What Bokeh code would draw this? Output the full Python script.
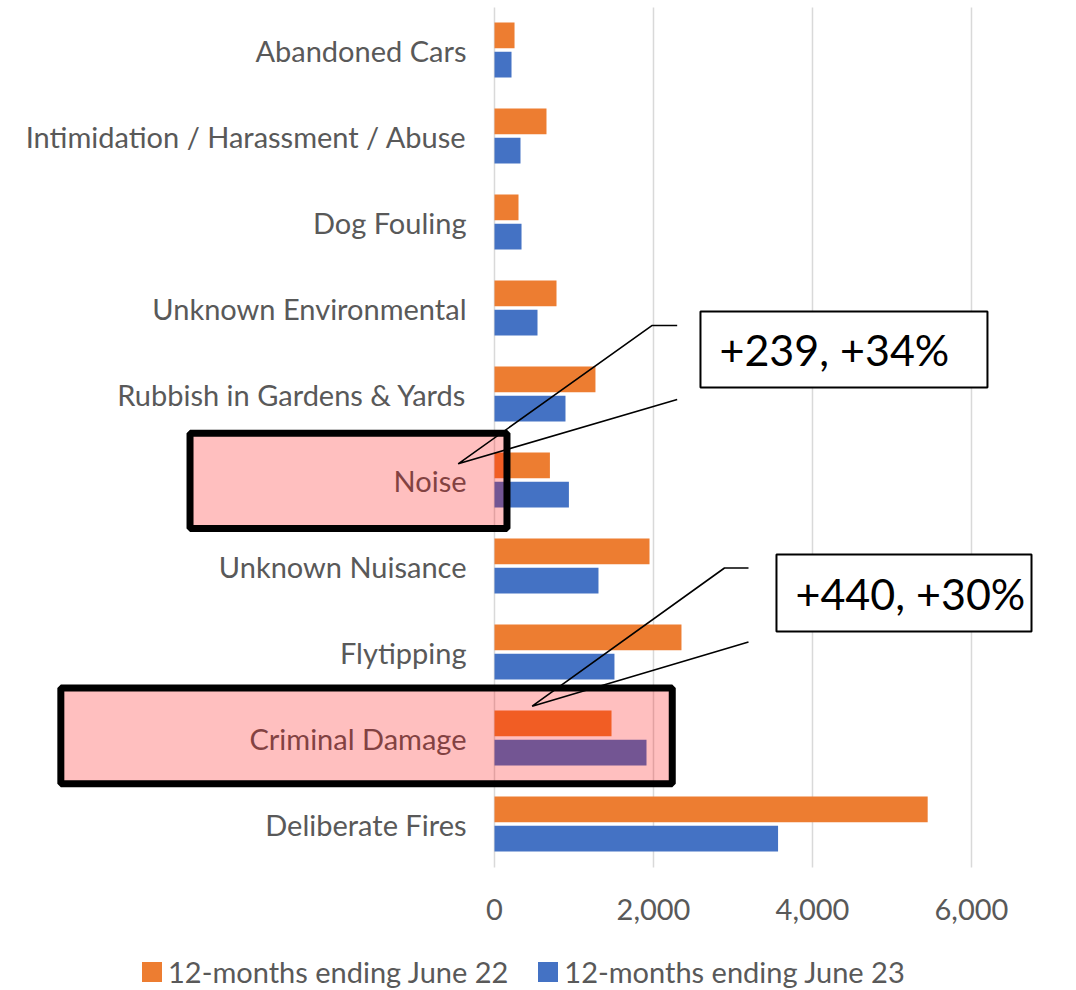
from bokeh.plotting import figure
from bokeh.models import ColumnDataSource, Range1d, Legend, LegendItem
from bokeh.transform import dodge
from bokeh.core.properties import value
from bokeh.embed import file_html
from bokeh.resources import INLINE

# ---- data ----
categories = ["Abandoned Cars", "Intimidation / Harassment / Abuse", "Dog Fouling",
              "Unknown Environmental", "Rubbish in Gardens & Yards", "Noise",
              "Unknown Nuisance", "Flytipping", "Criminal Damage", "Deliberate Fires"]
june22 = [252, 654, 302, 780, 1270, 697, 1950, 2352, 1472, 5449]
june23 = [214, 327, 340, 541, 893, 936, 1308, 1509, 1912, 3567]
series_labels = ["12-months ending June 22", "12-months ending June 23"]
x_ticks = [0, 2000, 4000, 6000]
x_tick_labels = ["0", "2,000", "4,000", "6,000"]
callout_texts = ["+239, +34%", "+440, +30%"]

# ---- styles ----
ORANGE = "#ED7D31"
BLUE = "#4472C4"
GREY_TEXT = "#595959"
FONT = "Lato"
FS = "29px"

# plot-area extent in category units (top edge, bottom edge) and tick-label row
AREA_TOP, AREA_BOTTOM, TICK_ROW = -0.494, 9.506, 9.99

pos = list(range(len(categories)))
src = ColumnDataSource(dict(pos=pos, cat=categories, j22=june22, j23=june23))

p = figure(frame_width=1076, frame_height=990, x_range=Range1d(-6214, 7321),
           y_range=Range1d(10.936, -0.5756), output_backend="svg",
           toolbar_location=None, x_axis_location=None, y_axis_location=None,
           min_border_left=0, min_border_right=0, min_border_top=0,
           min_border_bottom=0)
p.outline_line_color = None
p.background_fill_color = "white"
p.border_fill_color = "white"
p.xgrid.grid_line_color = None
p.ygrid.grid_line_color = None

# vertical gridlines of the value axis
p.segment(x0=x_ticks, x1=x_ticks, y0=AREA_TOP, y1=AREA_BOTTOM,
          line_color="#D9D9D9", line_width=1.5)

# value-axis tick labels
p.text(x=x_ticks, y=[TICK_ROW] * len(x_ticks), text=x_tick_labels,
       text_align="center", text_baseline="middle",
       text_font=value(FONT), text_font_size=FS, text_color=GREY_TEXT)

# bars
r1 = p.hbar(y=dodge("pos", -0.169, range=p.y_range), left=0, right="j22", height=0.30,
            fill_color=ORANGE, line_color=None, source=src)
r2 = p.hbar(y=dodge("pos", 0.169, range=p.y_range), left=0, right="j23", height=0.30,
            fill_color=BLUE, line_color=None, source=src)

# category labels
p.text(x=0, y="pos", text="cat", x_offset=-28, text_align="right", text_baseline="middle",
       text_font=value(FONT), text_font_size=FS, text_color=GREY_TEXT, source=src)

# highlight boxes (Noise, Criminal Damage)
p.quad(left=[-3830, -5455], right=[157, 2236], top=[4.457, 7.419], bottom=[5.565, 8.532],
       fill_color="#FF0000", fill_alpha=0.25, line_color="black", line_width=7)

# callout pointer lines
p.multi_line(xs=[[2298, 1984, -457, 2298], [3195, 2893, 474, 3195]],
             ys=[[3.203, 3.203, 4.812, 4.064], [6.023, 6.023, 7.630, 6.884]],
             line_color="black", line_width=1.6)

# callout boxes
p.quad(left=[2591, 3547], right=[6201, 6755], top=[3.041, 5.866], bottom=[3.924, 6.762],
       fill_color="white", line_color="black", line_width=2)
p.text(x=[2591, 3547], y=[(3.041 + 3.924) / 2, (5.866 + 6.762) / 2], text=callout_texts,
       x_offset=19, text_align="left", text_baseline="middle",
       text_font=value(FONT), text_font_size="43px", text_color="black")

# legend
legend = Legend(items=[LegendItem(label=series_labels[0], renderers=[r1]),
                       LegendItem(label=series_labels[1], renderers=[r2])],
                orientation="horizontal", location=(139, 1),
                label_text_font=FONT, label_text_font_size=FS,
                label_text_color=GREY_TEXT, glyph_width=25, glyph_height=25,
                label_standoff=4, spacing=27, padding=0, margin=0,
                border_line_color=None, background_fill_alpha=0)
p.add_layout(legend)

open("out.html", "w").write(file_html(p, INLINE))
